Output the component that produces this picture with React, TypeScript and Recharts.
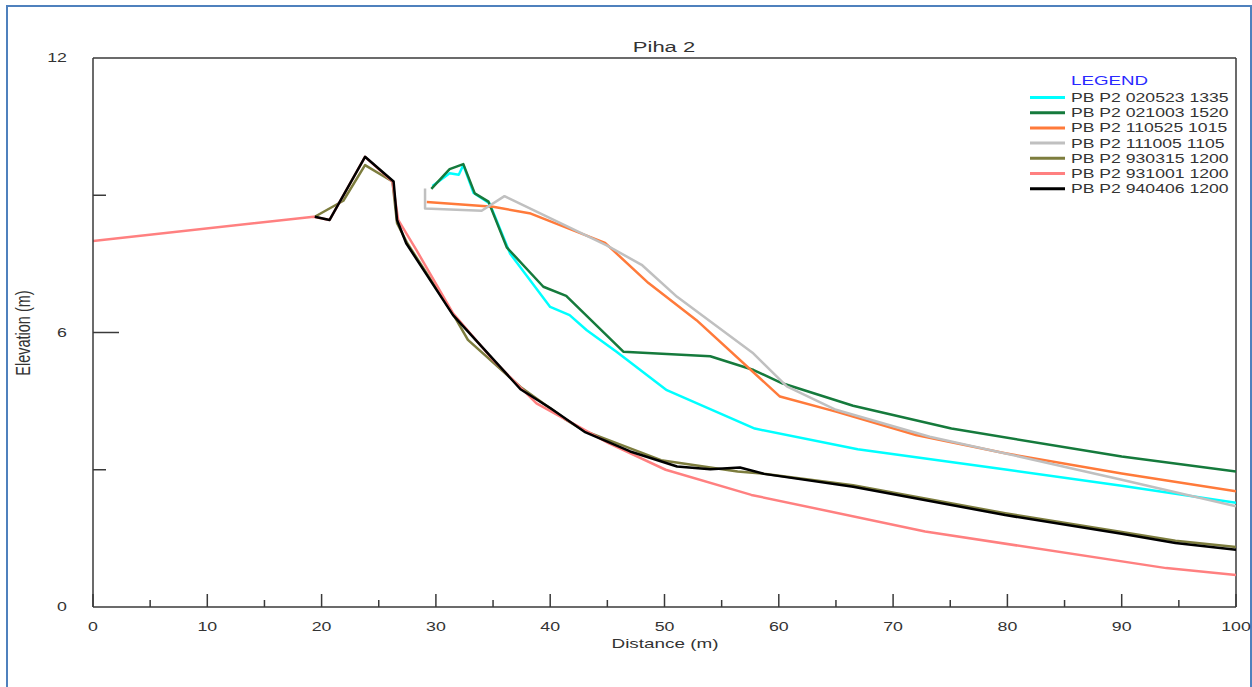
import { LineChart, Line, XAxis, YAxis, ReferenceLine } from 'recharts'

// Distance (m) / elevation (m) pairs
const dist020523 = [29.7, 31.2, 32.0, 32.4, 33.3, 34.7, 36.5, 40.0, 41.7, 43.2, 45.8, 50.2, 57.9, 66.9, 80.0, 90.0, 100]
const elev020523 = [9.2, 9.48, 9.45, 9.66, 9.05, 8.82, 7.72, 6.56, 6.38, 6.05, 5.58, 4.74, 3.9, 3.45, 3.0, 2.65, 2.28]

const dist021003 = [29.6, 31.2, 32.4, 33.4, 34.6, 36.2, 39.4, 41.4, 46.4, 54.0, 57.8, 60.3, 66.5, 75.1, 90.0, 100]
const elev021003 = [9.14, 9.57, 9.68, 9.04, 8.86, 7.86, 7.0, 6.8, 5.58, 5.48, 5.18, 4.89, 4.4, 3.9, 3.29, 2.96]

const dist110525 = [29.2, 35.0, 38.3, 44.8, 48.6, 52.8, 60.1, 65.0, 72.0, 79.8, 90.0, 100]
const elev110525 = [8.85, 8.75, 8.6, 7.96, 7.08, 6.27, 4.6, 4.27, 3.76, 3.36, 2.92, 2.53]

const dist111005 = [29.05, 29.05, 34.0, 36.0, 44.9, 48.0, 51.1, 57.7, 60.7, 65.0, 73.2, 81.0, 90.0, 100]
const elev111005 = [9.15, 8.71, 8.66, 8.98, 7.91, 7.48, 6.78, 5.56, 4.82, 4.31, 3.72, 3.29, 2.78, 2.2]

const dist930315 = [19.4, 21.9, 23.8, 26.2, 26.6, 27.5, 31.5, 32.8, 37.4, 41.4, 43.0, 49.7, 56.4, 58.5, 66.5, 79.8, 90.0, 94.7, 100]
const elev930315 = [8.53, 8.88, 9.66, 9.3, 8.39, 7.95, 6.4, 5.84, 4.81, 4.09, 3.85, 3.21, 2.96, 2.92, 2.66, 2.05, 1.64, 1.45, 1.31]

const dist931001 = [0, 19.3, 20.7, 23.8, 26.2, 26.7, 28.3, 31.5, 35.0, 38.8, 45.1, 50.1, 57.6, 72.8, 93.9, 100]
const elev931001 = [8.0, 8.53, 8.46, 9.84, 9.3, 8.46, 7.8, 6.42, 5.4, 4.45, 3.58, 3.0, 2.45, 1.65, 0.85, 0.7]

const dist940406 = [19.4, 20.7, 23.8, 26.3, 26.6, 27.4, 31.5, 37.4, 40.0, 43.0, 47.0, 51.1, 54.0, 56.6, 58.7, 66.5, 79.8, 90.0, 94.7, 100]
const elev940406 = [8.53, 8.46, 9.84, 9.3, 8.46, 7.95, 6.38, 4.76, 4.35, 3.83, 3.4, 3.07, 3.01, 3.05, 2.91, 2.63, 2.01, 1.6, 1.4, 1.25]

const xTicks = [0, 5, 10, 15, 20, 25, 30, 35, 40, 45, 50, 55, 60, 65, 70, 75, 80, 85, 90, 95, 100]
const yTicks = [0, 3, 6, 9, 12]
const yLabels = [0, 6, 12]

const FONT = '"Liberation Sans", Arial, sans-serif'
const AXIS = '#3a3a3a'
const TEXT = '#333333'
const STRETCH = 1.42 // the source picture is squashed wide

const zip = (d: number[], e: number[]) => d.map((v, i) => ({ d: v, e: e[i] }))

const series = [
  { name: 'PB P2 020523 1335', color: '#00ffff', data: zip(dist020523, elev020523) },
  { name: 'PB P2 021003 1520', color: '#157a3c', data: zip(dist021003, elev021003) },
  { name: 'PB P2 110525 1015', color: '#ff7a3a', data: zip(dist110525, elev110525) },
  { name: 'PB P2 111005 1105', color: '#c0c0c0', data: zip(dist111005, elev111005) },
  { name: 'PB P2 930315 1200', color: '#7d7d3e', data: zip(dist930315, elev930315) },
  { name: 'PB P2 931001 1200', color: '#ff8080', data: zip(dist931001, elev931001) },
  { name: 'PB P2 940406 1200', color: '#000000', data: zip(dist940406, elev940406) },
]

const DistTick = ({ x, y, payload }: any) => {
  const major = payload.value % 10 === 0
  return (
    <g>
      <line x1={x} x2={x} y1={y} y2={y - (major ? 13 : 7)} stroke={AXIS} strokeWidth={1.5} />
      {major && (
        <text
          transform={`translate(${x},${y + 20}) scale(${STRETCH},1)`}
          textAnchor="middle"
          dominantBaseline="central"
          fontFamily={FONT}
          fontSize={12.5}
          fill={TEXT}
        >
          {payload.value}
        </text>
      )}
    </g>
  )
}

const ElevTick = ({ x, y, payload }: any) => {
  const v = payload.value
  const len = v === 6 ? 26 : v === 3 || v === 9 ? 13 : 0
  return (
    <g>
      {len > 0 && <line x1={x} x2={x + len} y1={y} y2={y} stroke={AXIS} strokeWidth={1.5} />}
      {yLabels.includes(v) && (
        <text
          transform={`translate(${x - 26},${y}) scale(${STRETCH},1)`}
          textAnchor="end"
          dominantBaseline="central"
          fontFamily={FONT}
          fontSize={12.5}
          fill={TEXT}
        >
          {v}
        </text>
      )}
    </g>
  )
}

const LegendBox = ({ x, y }: { x: number; y: number }) => (
  <g transform={`translate(${x},${y})`}>
    <text
      transform={`translate(46,11) scale(${STRETCH},1)`}
      dominantBaseline="central"
      fontFamily={FONT}
      fontSize={13.2}
      fill="#2a2aff"
    >
      LEGEND
    </text>
    {series.map((s, i) => (
      <g key={s.name} transform={`translate(0,${28.5 + i * 15.2})`}>
        <line x1={5} x2={40} y1={0} y2={0} stroke={s.color} strokeWidth={3} />
        <text
          transform={`translate(46,0) scale(${STRETCH},1)`}
          dominantBaseline="central"
          fontFamily={FONT}
          fontSize={12.4}
          fill={TEXT}
        >
          {s.name}
        </text>
      </g>
    ))}
  </g>
)

export default function App() {
  return (
    <div style={{ position: 'absolute', left: 0, top: 0, width: 1252, height: 687, background: '#fff', overflow: 'hidden' }}>
      <div
        style={{
          position: 'absolute', left: 6, top: 5, width: 1242, height: 700,
          borderLeft: '2.5px solid #4f81bd', borderTop: '2.5px solid #4f81bd', borderRight: '2.5px solid #4f81bd',
        }}
      />
      <LineChart width={1252} height={687} margin={{ top: 58, right: 16, bottom: 79, left: 92 }}>
        <XAxis
          dataKey="d"
          type="number"
          domain={[0, 100]}
          ticks={xTicks}
          interval={0}
          height={1}
          tickSize={0}
          tickMargin={0}
          tickLine={false}
          tick={<DistTick />}
          axisLine={{ stroke: AXIS, strokeWidth: 1.5 }}
          allowDataOverflow
        />
        <YAxis
          type="number"
          domain={[0, 12]}
          ticks={yTicks}
          interval={0}
          width={1}
          tickSize={0}
          tickMargin={0}
          tickLine={false}
          tick={<ElevTick />}
          axisLine={{ stroke: AXIS, strokeWidth: 1.5 }}
          allowDataOverflow
        />
        <ReferenceLine y={12} stroke={AXIS} strokeWidth={1.5} />
        <ReferenceLine x={100} stroke={AXIS} strokeWidth={1.5} />
        {series.map((s) => (
          <Line
            key={s.name}
            data={s.data}
            dataKey="e"
            name={s.name}
            type="linear"
            stroke={s.color}
            strokeWidth={2.5}
            strokeLinejoin="round"
            dot={false}
            activeDot={false}
            isAnimationActive={false}
          />
        ))}
      </LineChart>
      <svg width={1252} height={687} style={{ position: 'absolute', left: 0, top: 0, pointerEvents: 'none' }}>
        <text
          transform={`translate(664,47) scale(${STRETCH},1)`}
          textAnchor="middle"
          dominantBaseline="central"
          fontFamily={FONT}
          fontSize={15.5}
          fill={TEXT}
        >
          Piha 2
        </text>
        <text
          transform={`translate(665,643) scale(${STRETCH},1)`}
          textAnchor="middle"
          dominantBaseline="central"
          fontFamily={FONT}
          fontSize={13.3}
          fill={TEXT}
        >
          Distance (m)
        </text>
        <text
          transform={`translate(23,333) rotate(-90) scale(1,${STRETCH})`}
          textAnchor="middle"
          dominantBaseline="central"
          fontFamily={FONT}
          fontSize={14.5}
          fill={TEXT}
        >
          Elevation (m)
        </text>
        <LegendBox x={1025} y={69} />
      </svg>
    </div>
  )
}
